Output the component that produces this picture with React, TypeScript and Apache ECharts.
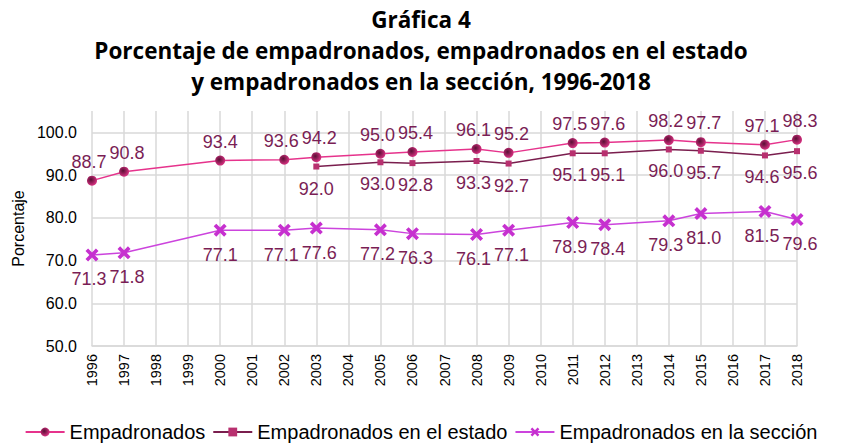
import React, { useEffect, useRef } from "react";
import * as echarts from "echarts";

const years = ["1996","1997","1998","1999","2000","2001","2002","2003","2004","2005","2006","2007","2008","2009","2010","2011","2012","2013","2014","2015","2016","2017","2018"];
const empadronados = [88.7, 90.8, null, null, 93.4, null, 93.6, 94.2, null, 95.0, 95.4, null, 96.1, 95.2, null, 97.5, 97.6, null, 98.2, 97.7, null, 97.1, 98.3];
const enEstado = [null, null, null, null, null, null, null, 92.0, null, 93.0, 92.8, null, 93.3, 92.7, null, 95.1, 95.1, null, 96.0, 95.7, null, 94.6, 95.6];
const enSeccion = [71.3, 71.8, null, null, 77.1, null, 77.1, 77.6, null, 77.2, 76.3, null, 76.1, 77.1, null, 78.9, 78.4, null, 79.3, 81.0, null, 81.5, 79.6];
const seriesNames = ["Empadronados", "Empadronados en el estado", "Empadronados en la sección"];
const titleLines = ["Gráfica 4", "Porcentaje de empadronados, empadronados en el estado", "y empadronados en la sección, 1996-2018"];

const xSymbol = "path://M0,2 L2,0 L5,3 L8,0 L10,2 L7,5 L10,8 L8,10 L5,7 L2,10 L0,8 L3,5 Z";
const sans = "Liberation Sans, Arial, sans-serif";

// nudge labels of neighbouring points apart a little so they don't collide
function withLabelNudges(values: (number | null)[]) {
  return values.map((v, i) => {
    if (v === null) return null;
    const prev = i > 0 && values[i - 1] !== null;
    const next = i < values.length - 1 && values[i + 1] !== null;
    const dx = next && !prev ? -3 : prev && !next ? 3 : 0;
    return { value: v, label: { offset: [dx, 0] } };
  });
}

export default function App() {
  const ref = useRef<HTMLDivElement>(null);
  useEffect(() => {
    if (!ref.current) return;
    const chart = echarts.init(ref.current, null, { renderer: "svg" });
    const labelColor = "#7A1E55";
    const labelFont = { fontFamily: sans, fontSize: 18, color: labelColor };
    chart.setOption({
      animation: false,
      backgroundColor: "#ffffff",
      title: titleLines.map((t, i) => ({
        text: t,
        left: "center",
        top: 3 + i * 31,
        textStyle: { fontFamily: "Open Sans, sans-serif", fontWeight: "bold", fontSize: 22.5, color: "#000" },
      })),
      grid: { left: 92, right: 45, top: 111, bottom: 99, containLabel: false },
      legend: {
        bottom: -2,
        left: "center",
        itemGap: 7,
        itemWidth: 39,
        itemHeight: 11,
        textStyle: { fontFamily: sans, fontSize: 20, color: "#000" },
        data: seriesNames,
      },
      xAxis: {
        type: "category",
        data: years,
        boundaryGap: false,
        axisLine: { lineStyle: { color: "#d9d9d9", width: 1.5 } },
        axisTick: { show: false },
        axisLabel: { rotate: 90, interval: 0, fontFamily: sans, fontSize: 14.5, color: "#000", margin: 8 },
        splitLine: { show: true, lineStyle: { color: "#d9d9d9", width: 1.5 } },
      },
      yAxis: {
        type: "value",
        min: 50,
        max: 105,
        interval: 10,
        name: "Porcentaje",
        nameLocation: "middle",
        nameGap: 66,
        nameRotate: 90,
        nameTextStyle: { fontFamily: sans, fontSize: 16, color: "#000" },
        axisLine: { show: false },
        axisTick: { show: false },
        axisLabel: {
          showMaxLabel: false,
          fontFamily: sans,
          fontSize: 16,
          color: "#000",
          margin: 15,
          formatter: (v: number) => (v > 100 ? "" : v.toFixed(1)),
        },
        splitLine: {
          show: true,
          lineStyle: { color: ["#d9d9d9", "#d9d9d9", "#d9d9d9", "#d9d9d9", "#d9d9d9", "#d9d9d9", "rgba(0,0,0,0)"], width: 1.5 },
        },
      },
      series: [
        {
          name: seriesNames[0],
          type: "line",
          data: withLabelNudges(empadronados),
          connectNulls: true,
          symbol: "circle",
          symbolSize: 10,
          lineStyle: { color: "#E6338C", width: 1.5 },
          itemStyle: {
            color: new echarts.graphic.RadialGradient(0.4, 0.4, 0.6, [
              { offset: 0, color: "#5a0f35" },
              { offset: 1, color: "#D4307F" },
            ]),
            borderWidth: 0,
          },
          label: { show: true, position: "top", distance: 5, formatter: (p: any) => p.value.toFixed(1), ...labelFont },
          z: 3,
        },
        {
          name: seriesNames[1],
          type: "line",
          data: withLabelNudges(enEstado),
          connectNulls: true,
          symbol: "rect",
          symbolSize: 6,
          lineStyle: { color: "#7A1E4E", width: 1.5 },
          itemStyle: { color: "#B8306F", borderWidth: 0 },
          label: { show: true, position: "bottom", distance: 10, formatter: (p: any) => p.value.toFixed(1), ...labelFont },
          z: 2,
        },
        {
          name: seriesNames[2],
          type: "line",
          data: withLabelNudges(enSeccion),
          connectNulls: true,
          symbol: xSymbol,
          symbolSize: 13,
          lineStyle: { color: "#CC44DD", width: 1.5 },
          itemStyle: { color: "#C630CF", borderWidth: 0 },
          label: { show: true, position: "bottom", distance: 9, formatter: (p: any) => p.value.toFixed(1), ...labelFont },
          z: 2,
        },
      ],
    });
    return () => chart.dispose();
  }, []);
  return <div ref={ref} style={{ width: 842, height: 445, position: "absolute", left: 0, top: 0 }} />;
}
